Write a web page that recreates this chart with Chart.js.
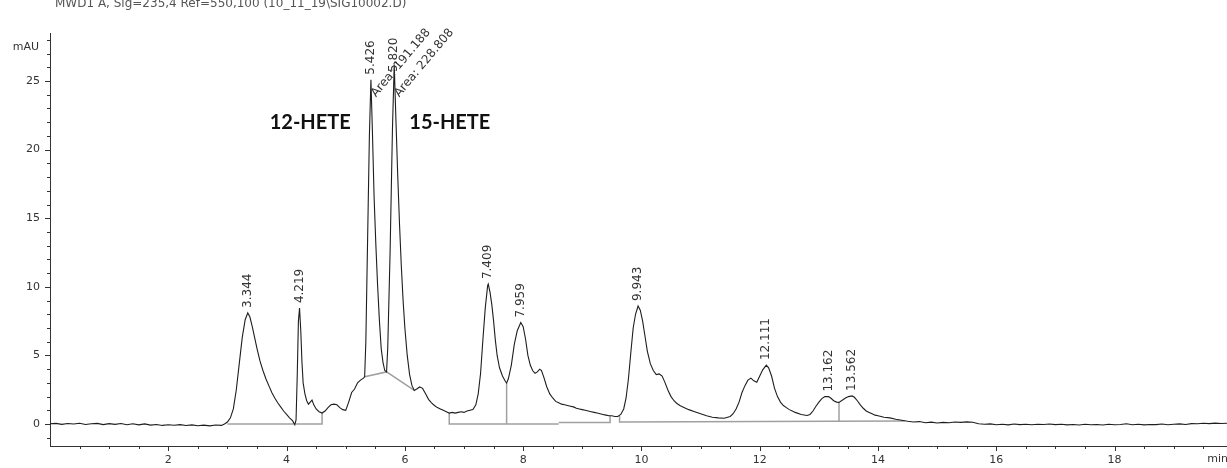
<!DOCTYPE html>
<html><head><meta charset="utf-8">
<script src="https://cdn.jsdelivr.net/npm/chart.js@4.4.1/dist/chart.umd.min.js"></script>
<style>html,body{margin:0;padding:0;background:#fff}#wrap{width:1227px;height:468px;position:relative}</style>
</head><body><div id="wrap"><canvas id="c" width="1227" height="468"></canvas></div>
<script>
const titleText = "MWD1 A, Sig=235,4 Ref=550,100 (10_11_19\\SIG10002.D)";
const yUnit = "mAU";
const xUnit = "min";

const times = [
0.00,0.10,0.20,0.30,0.40,0.50,0.60,0.70,0.80,0.90,
1.00,1.10,1.20,1.30,1.40,1.50,1.60,1.70,1.80,1.90,
2.00,2.10,2.20,2.30,2.40,2.50,2.60,2.70,2.80,2.90,
2.95,3.00,3.05,3.10,3.15,3.20,3.25,3.30,3.344,3.38,
3.42,3.46,3.50,3.55,3.60,3.65,3.70,3.75,3.80,3.85,
3.90,3.95,4.00,4.05,4.10,4.14,4.16,4.18,4.20,4.219,
4.24,4.26,4.28,4.31,4.34,4.37,4.40,4.43,4.46,4.50,
4.55,4.60,4.65,4.70,4.75,4.80,4.85,4.90,4.95,5.00,
5.05,5.10,5.15,5.20,5.25,5.30,5.32,5.34,5.36,5.38,
5.40,5.426,5.45,5.48,5.51,5.54,5.57,5.60,5.63,5.66,
5.69,5.71,5.73,5.75,5.77,5.79,5.82,5.85,5.88,5.91,
5.94,5.97,6.00,6.04,6.08,6.12,6.16,6.20,6.25,6.30,
6.35,6.40,6.45,6.50,6.55,6.60,6.65,6.70,6.75,6.80,
6.85,6.90,6.95,7.00,7.05,7.10,7.15,7.20,7.24,7.28,
7.32,7.36,7.40,7.41,7.44,7.47,7.50,7.53,7.56,7.60,
7.65,7.70,7.72,7.75,7.80,7.85,7.90,7.96,8.00,8.04,
8.08,8.12,8.16,8.20,8.24,8.28,8.31,8.35,8.40,8.45,
8.50,8.55,8.60,8.65,8.70,8.75,8.80,8.85,8.90,8.95,
9.00,9.05,9.10,9.15,9.20,9.25,9.30,9.35,9.40,9.45,
9.50,9.55,9.60,9.65,9.70,9.74,9.78,9.82,9.86,9.90,
9.943,9.98,10.02,10.06,10.10,10.15,10.20,10.25,10.30,10.35,
10.40,10.45,10.50,10.55,10.60,10.65,10.70,10.80,10.90,11.00,
11.10,11.20,11.30,11.40,11.50,11.55,11.60,11.65,11.70,11.75,
11.80,11.85,11.90,11.95,12.00,12.05,12.111,12.15,12.20,12.25,
12.30,12.35,12.40,12.45,12.50,12.55,12.60,12.70,12.80,12.85,
12.90,12.95,13.00,13.05,13.10,13.162,13.20,13.25,13.30,13.34,
13.40,13.45,13.50,13.562,13.60,13.65,13.70,13.75,13.80,13.85,
13.90,13.95,14.00,14.10,14.20,14.30,14.40,14.50,14.60,14.70,
14.80,14.90,15.00,15.10,15.20,15.30,15.40,15.50,15.60,15.70,
15.80,15.90,16.00,16.10,16.20,16.30,16.40,16.50,16.60,16.70,
16.80,16.90,17.00,17.10,17.20,17.30,17.40,17.50,17.60,17.70,
17.80,17.90,18.00,18.10,18.20,18.30,18.40,18.50,18.60,18.70,
18.80,18.90,19.00,19.10,19.20,19.30,19.40,19.50,19.60,19.70,
19.80,19.90,20.00
];

const signal = [
0.02,0.05,-0.02,0.04,0.00,0.06,-0.03,0.02,0.05,-0.04,
0.03,-0.02,0.04,-0.05,0.02,-0.06,0.01,-0.08,-0.03,-0.10,
-0.05,-0.09,-0.04,-0.11,-0.06,-0.12,-0.08,-0.13,-0.07,-0.10,
0.00,0.15,0.45,1.10,2.50,4.40,6.30,7.60,8.10,7.80,
7.10,6.30,5.50,4.60,3.90,3.30,2.80,2.30,1.90,1.55,
1.25,0.95,0.70,0.45,0.25,-0.05,0.30,3.50,7.50,8.45,
6.80,4.50,3.00,2.20,1.70,1.45,1.60,1.75,1.40,1.10,
0.90,0.80,0.95,1.20,1.40,1.45,1.40,1.20,1.05,1.00,
1.60,2.30,2.55,3.00,3.20,3.35,3.45,6.00,11.0,16.0,
21.0,25.1,21.5,16.5,13.0,10.0,7.50,5.50,4.50,3.90,
3.80,5.50,9.00,12.5,17.0,21.5,26.2,22.0,18.0,14.5,
11.5,9.00,7.00,5.00,3.60,2.80,2.45,2.55,2.70,2.60,
2.20,1.80,1.55,1.35,1.20,1.10,1.00,0.90,0.80,0.85,
0.80,0.85,0.90,0.85,0.95,1.00,1.05,1.40,2.20,3.70,
6.20,8.50,10.1,10.2,9.60,8.70,7.50,6.10,5.00,4.10,
3.50,3.10,3.00,3.30,4.30,5.80,6.80,7.40,7.10,6.20,
5.00,4.30,3.90,3.70,3.80,4.00,3.90,3.40,2.70,2.20,
1.90,1.65,1.55,1.45,1.40,1.35,1.30,1.25,1.15,1.10,
1.05,1.00,0.95,0.90,0.85,0.80,0.75,0.70,0.65,0.60,
0.60,0.55,0.55,0.70,1.10,1.90,3.30,5.20,7.00,8.00,
8.60,8.30,7.50,6.40,5.30,4.40,3.90,3.60,3.65,3.50,
3.00,2.45,2.00,1.70,1.50,1.35,1.25,1.05,0.90,0.75,
0.60,0.50,0.45,0.42,0.55,0.75,1.10,1.60,2.30,2.80,
3.20,3.35,3.15,3.05,3.50,3.95,4.30,4.10,3.50,2.60,
2.00,1.60,1.35,1.20,1.05,0.95,0.85,0.70,0.62,0.70,
0.95,1.30,1.60,1.85,2.00,2.00,1.90,1.70,1.60,1.58,
1.75,1.90,2.00,2.05,1.95,1.70,1.40,1.15,0.95,0.85,
0.75,0.65,0.60,0.50,0.45,0.35,0.28,0.20,0.15,0.18,
0.10,0.14,0.08,0.12,0.10,0.15,0.12,0.16,0.13,0.02,
-0.02,0.01,-0.05,-0.02,-0.06,0.00,-0.04,-0.01,-0.05,-0.02,
-0.03,0.00,-0.04,-0.01,-0.06,-0.03,-0.07,-0.02,-0.05,-0.03,
-0.07,-0.02,-0.05,-0.03,0.02,-0.05,-0.02,-0.06,-0.03,-0.04,
0.00,-0.05,-0.02,0.01,-0.03,0.03,0.02,0.06,0.03,0.07,
0.04,0.06,0.05
];

// integration baselines and drop lines (time, value)
const baselineT = [
  [3.00, 4.14],
  [4.16, 4.60, 4.60],
  [5.32, 5.69, 6.16],
  [6.75, 6.75, 8.60],
  [7.72, 7.72],
  [8.60, 9.47, 9.47],
  [9.63, 9.63, 14.45],
  [13.34, 13.34]
];
const baselineV = [
  [0, 0],
  [0, 0, 0.80],
  [3.45, 3.80, 2.45],
  [0.80, 0, 0],
  [0, 3.00],
  [0.12, 0.12, 0.60],
  [0.58, 0.15, 0.22],
  [0.19, 1.58]
];

const peakTimes  = [3.344, 4.219, 5.426, 5.820, 7.409, 7.959, 9.943, 12.111, 13.162, 13.562];
const peakLabels = ["3.344","4.219","5.426","5.820","7.409","7.959","9.943","12.111","13.162","13.562"];
const areaPeakTimes = [5.426, 5.820];
const areaLabels = ["Area: 191.188", "Area: 228.808"];

const compoundNames = ["12-HETE", "15-HETE"];
const compoundT = [4.40, 6.76];
const compoundV = [22.0, 22.0];

const xTickValues = [2, 4, 6, 8, 10, 12, 14, 16, 18];
const xTickLabels = ["2", "4", "6", "8", "10", "12", "14", "16", "18"];
const yTickValues = [0, 5, 10, 15, 20, 25];
const yTickLabels = ["0", "5", "10", "15", "20", "25"];

const LABEL_FONT = '12px "DejaVu Sans"';
const TICK_FONT = '11px "DejaVu Sans"';

function apexValue(t) {
  let best = -Infinity;
  for (let i = 0; i < times.length; i++) {
    if (Math.abs(times[i] - t) <= 0.03 && signal[i] > best) best = signal[i];
  }
  return best;
}

const extras = {
  id: 'extras',
  afterDraw(chart) {
    const { ctx, chartArea: a, scales: { x, y } } = chart;
    ctx.save();
    // tick marks
    ctx.strokeStyle = '#333'; ctx.lineWidth = 1;
    ctx.beginPath();
    for (let v = Math.ceil(y.min); v <= Math.floor(y.max); v++) {
      const py = Math.round(y.getPixelForValue(v)) + 0.5;
      const len = (v % 5 === 0) ? 5 : 3;
      ctx.moveTo(a.left - len, py); ctx.lineTo(a.left, py);
    }
    for (let k = 1; k < 40; k++) {
      const t = k * 0.5;
      if (t > x.max) break;
      const px = Math.round(x.getPixelForValue(t)) + 0.5;
      const len = (k % 4 === 0) ? 5 : 3;
      ctx.moveTo(px, a.bottom); ctx.lineTo(px, a.bottom + len);
    }
    ctx.stroke();

    // title
    ctx.font = LABEL_FONT; ctx.fillStyle = '#555';
    ctx.textAlign = 'left'; ctx.textBaseline = 'alphabetic';
    ctx.fillText(titleText, 55, 7);

    // axis units
    ctx.font = TICK_FONT;
    ctx.fillStyle = '#333'; ctx.textAlign = 'right'; ctx.textBaseline = 'middle';
    ctx.fillText(yUnit, 39, y.getPixelForValue(27.5));
    ctx.textAlign = 'center'; ctx.textBaseline = 'top';
    ctx.fillText(xUnit, x.getPixelForValue(19.74), a.bottom + 8);

    // peak retention time labels
    ctx.font = LABEL_FONT;
    ctx.fillStyle = '#333';
    peakTimes.forEach((t, i) => {
      const px = x.getPixelForValue(t);
      const apx = y.getPixelForValue(apexValue(t));
      const bottom = Math.max(apx - 5, 72);
      ctx.save();
      ctx.translate(px, bottom);
      ctx.rotate(-Math.PI / 2);
      ctx.textAlign = 'left'; ctx.textBaseline = 'middle';
      ctx.fillText(peakLabels[i], 0, 0);
      ctx.restore();
    });

    // area labels
    areaPeakTimes.forEach((t, i) => {
      const px = x.getPixelForValue(t) + 5;
      const py = y.getPixelForValue(23.8);
      ctx.save();
      ctx.translate(px, py);
      ctx.rotate(-50 * Math.PI / 180);
      ctx.textAlign = 'left'; ctx.textBaseline = 'alphabetic';
      ctx.fillText(areaLabels[i], 0, 0);
      ctx.restore();
    });

    // compound names
    ctx.font = 'bold 20px Lato';
    ctx.fillStyle = '#111';
    ctx.textAlign = 'center'; ctx.textBaseline = 'middle';
    compoundNames.forEach((n, i) => {
      ctx.fillText(n, x.getPixelForValue(compoundT[i]), y.getPixelForValue(compoundV[i]));
    });
    ctx.restore();
  }
};

const datasets = [{
  data: times.map((t, i) => ({ x: t, y: signal[i] })),
  borderColor: '#1e1e1e', borderWidth: 1.1, pointRadius: 0, showLine: true, tension: 0
}];
baselineT.forEach((seg, s) => {
  datasets.push({
    data: seg.map((t, i) => ({ x: t, y: baselineV[s][i] })),
    borderColor: '#a0a0a0', borderWidth: 1.5, pointRadius: 0, showLine: true, tension: 0
  });
});

new Chart(document.getElementById('c'), {
  type: 'scatter',
  data: { datasets },
  options: {
    responsive: false, animation: false, devicePixelRatio: 1,
    layout: { padding: { top: 33, right: 0, left: 0, bottom: 0 } },
    plugins: { legend: { display: false }, tooltip: { enabled: false }, title: { display: false } },
    scales: {
      x: {
        type: 'linear', min: 0, max: 19.9,
        afterFit(s) { s.height = 22; },
        afterBuildTicks(s) { s.ticks = xTickValues.map(v => ({ value: v })); },
        ticks: { autoSkip: false, maxRotation: 0, padding: 8, color: '#333',
          font: { family: 'DejaVu Sans', size: 11 },
          callback: (v, i) => xTickLabels[i] },
        grid: { display: true, drawOnChartArea: false, drawTicks: false },
        border: { display: true, color: '#333', width: 1 }
      },
      y: {
        type: 'linear', min: -1.6, max: 28.5,
        afterFit(s) { s.width = 50; },
        afterBuildTicks(s) { s.ticks = yTickValues.map(v => ({ value: v })); },
        ticks: { autoSkip: false, padding: 10, color: '#333',
          font: { family: 'DejaVu Sans', size: 11 },
          callback: (v, i) => yTickLabels[i] },
        grid: { display: true, drawOnChartArea: false, drawTicks: false },
        border: { display: true, color: '#333', width: 1 }
      }
    }
  },
  plugins: [extras]
});
</script>
</body></html>
